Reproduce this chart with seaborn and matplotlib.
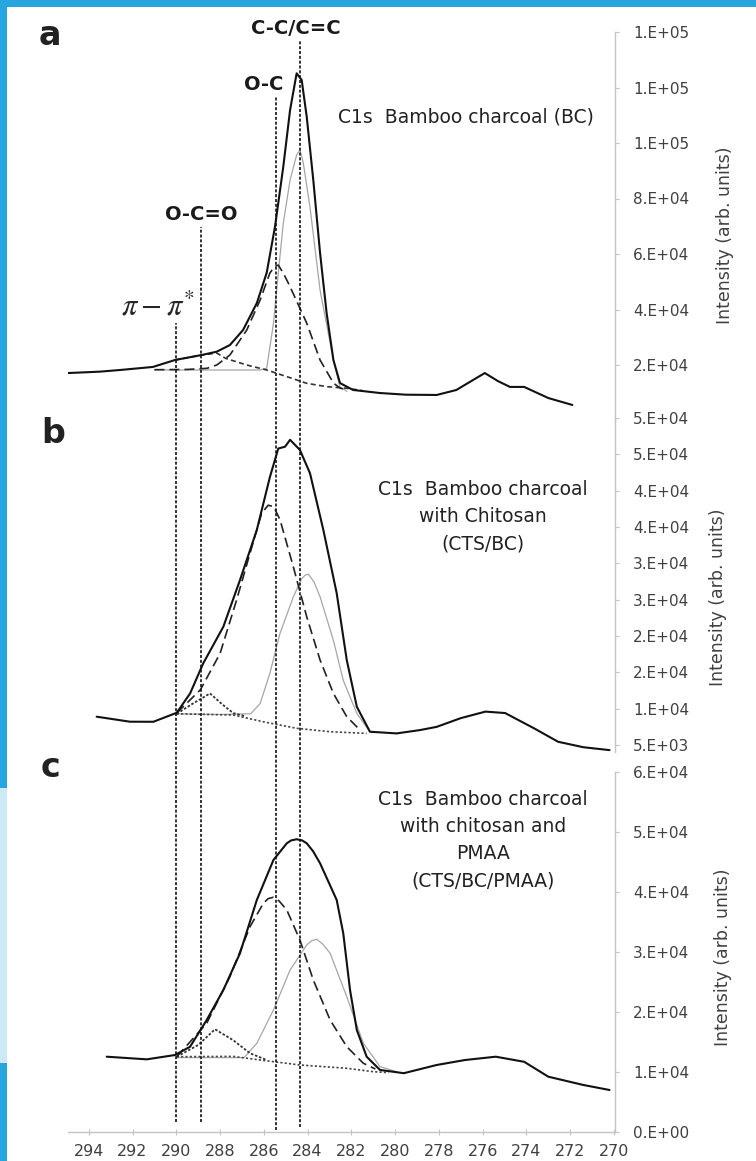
import matplotlib
matplotlib.use("Agg")
import matplotlib.pyplot as plt
import seaborn as sns
from matplotlib.patches import Rectangle

# ---------------- data (binding energy in eV, intensity in arb. units) ----------------
# panel a : Bamboo charcoal (BC)
a_total_E = [294.95, 293.5, 292.57, 291.07, 290.06, 288.84, 288.15, 287.55, 286.95, 286.32,
             285.87, 285.49, 285.11, 284.8, 284.5, 284.27, 284.04, 283.74, 283.43, 283.13,
             282.82, 282.52, 281.92, 280.69, 279.5, 278.1, 277.2, 276.5, 275.9, 275.3,
             274.75, 274.1, 273.0, 271.9]
a_total_I = [17100, 17600, 18200, 19300, 21800, 23600, 24800, 27200, 32600, 42300,
             53200, 69800, 91500, 111900, 125100, 122700, 109500, 86700, 60400, 38700,
             21800, 13500, 11000, 9900, 9300, 9200, 11000, 14300, 17100, 14200,
             12100, 12100, 8100, 5600]
a_oc_E = [291.0, 289.5, 288.6, 288.15, 287.55, 286.78, 286.17, 285.72, 285.5, 285.34, 285.1,
          284.8, 284.04, 283.43, 282.82, 282.52, 282.2]
a_oc_I = [18300, 18400, 18800, 20000, 23600, 32600, 43400, 53200, 55500, 56000, 53000,
          48200, 35100, 21800, 13500, 11700, 11000]
a_cc_E = [291.0, 286.2, 285.87, 285.56, 285.34, 285.11, 284.8, 284.5, 284.35, 284.2, 283.89,
          283.43, 282.82, 282.52, 282.2]
a_cc_I = [18200, 18200, 18800, 35000, 53000, 71100, 86700, 95700, 97500, 93000, 76900,
          47000, 21800, 12100, 10500]
a_ocoo_E = [290.06, 288.84, 288.15, 287.75, 286.78, 285.87, 284.95, 284.04, 283.13, 282.2, 281.5]
a_ocoo_I = [21800, 23600, 24300, 22400, 20000, 18200, 15800, 13400, 12200, 11600, 10800]

# panel b : Bamboo charcoal with Chitosan (CTS/BC)
b_total_E = [293.64, 292.12, 291.05, 289.98, 289.37, 288.77, 287.85, 287.09, 286.32, 285.72,
             285.34, 285.03, 284.8, 284.35, 283.89, 283.28, 282.67, 282.21, 281.75, 281.15,
             279.93, 278.86, 278.1, 277.0, 275.87, 274.97, 273.65, 272.55, 271.4, 270.2]
b_total_I = [8900, 8210, 8200, 9440, 12100, 16240, 21280, 27700, 34600, 41900,
             45800, 46050, 47000, 45600, 42400, 34600, 25900, 16700, 10270, 6830,
             6600, 7060, 7500, 8700, 9600, 9400, 7300, 5450, 4700, 4300]
b_oc_E = [289.98, 288.9, 288.0, 287.24, 286.63, 286.1, 285.8, 285.55, 285.26, 284.65, 284.04,
          283.43, 282.82, 282.21, 281.6]
b_oc_I = [9400, 12600, 17600, 25000, 31400, 36900, 38000, 37800, 36000, 29500, 22650,
          16700, 12100, 8900, 7060]
b_cc_E = [289.98, 288.0, 286.6, 286.17, 285.72, 285.26, 284.65, 284.27, 284.1, 283.96, 283.7,
          283.43, 282.82, 282.37, 281.75, 281.15]
b_cc_I = [9300, 9200, 9300, 10700, 14900, 20370, 25400, 27900, 28400, 28500, 27400,
          25400, 19400, 13900, 9360, 6800]
b_ocoo_E = [289.98, 289.3, 288.46, 287.9, 287.4, 286.9]
b_ocoo_I = [9300, 10600, 12100, 10600, 9400, 9000]
b_bg_E = [289.98, 287.4, 286.02, 284.5, 282.97, 281.3]
b_bg_I = [9300, 9130, 8200, 7300, 6830, 6600]

# panel c : Bamboo charcoal with chitosan and PMAA (CTS/BC/PMAA)
c_total_E = [293.18, 291.35, 290.06, 289.37, 288.61, 287.85, 287.09, 286.32, 285.56, 284.95,
             284.75, 284.5, 284.25, 284.04, 283.75, 283.43, 282.67, 282.37, 282.06, 281.75,
             281.3, 280.69, 279.6, 278.1, 276.8, 275.4, 274.1, 273.0, 271.4, 270.2]
c_total_I = [12550, 12110, 12830, 14220, 18670, 23670, 29790, 38670, 45340, 48120,
             48600, 48790, 48600, 48120, 46800, 44790, 38670, 33120, 23670, 17000,
             12550, 10340, 9800, 11170, 12000, 12550, 11700, 9220, 7840, 7000]
c_oc_E = [289.98, 288.61, 287.55, 286.63, 286.02, 285.8, 285.56, 285.3, 284.95, 284.35, 283.74,
          282.97, 282.21, 281.45, 280.9]
c_oc_I = [12550, 18120, 25900, 34230, 38120, 38900, 39120, 38500, 37000, 32000, 25340,
          18670, 14220, 11450, 10500]
c_cc_E = [289.98, 286.9, 286.32, 285.56, 284.8, 284.04, 283.8, 283.58, 283.3, 282.97, 282.21,
          281.45, 280.69, 279.93]
c_cc_I = [12400, 12400, 14780, 20340, 27000, 31170, 31900, 32120, 31300, 29790, 22560,
          14780, 10890, 10050]
c_ocoo_E = [289.98, 289.0, 288.23, 287.4, 286.63, 285.87]
c_ocoo_I = [12550, 14500, 17120, 15300, 13120, 12000]
c_bg_E = [289.98, 287.4, 286.17, 284.35, 282.21, 281.0, 280.3]
c_bg_I = [12550, 12600, 12000, 11170, 10620, 10050, 9900]

# peak assignments (vertical marker lines)
peak_pos = [290.0, 288.85, 285.45, 284.35]
peak_labels = [r"$\pi-\pi^{*}$", "O-C=O", "O-C", "C-C/C=C"]

# axes ticks
x_ticks = [294, 292, 290, 288, 286, 284, 282, 280, 278, 276, 274, 272, 270]
a_yticks = [20000, 40000, 60000, 80000, 100000, 120000, 140000]
a_ylabels = ["2.E+04", "4.E+04", "6.E+04", "8.E+04", "1.E+05", "1.E+05", "1.E+05"]
b_yticks = [5000, 10000, 15000, 20000, 25000, 30000, 35000, 40000, 45000, 50000]
b_ylabels = ["5.E+03", "1.E+04", "2.E+04", "2.E+04", "3.E+04", "3.E+04", "4.E+04",
             "4.E+04", "5.E+04", "5.E+04"]
c_yticks = [0, 10000, 20000, 30000, 40000, 50000, 60000]
c_ylabels = ["0.E+00", "1.E+04", "2.E+04", "3.E+04", "4.E+04", "5.E+04", "6.E+04"]

panel_titles = ["C1s  Bamboo charcoal (BC)",
                "C1s  Bamboo charcoal\nwith Chitosan\n(CTS/BC)",
                "C1s  Bamboo charcoal\nwith chitosan and\nPMAA\n(CTS/BC/PMAA)"]
panel_letters = ["a", "b", "c"]
y_title = "Intensity (arb. units)"

# ---------------- style ----------------
sns.set_style("white")
plt.rcParams['font.family'] = ['DejaVu Sans']
plt.rcParams['mathtext.fontset'] = 'stix'

W, H = 756, 1161
fig = plt.figure(figsize=(W / 100, H / 100), dpi=100)
fig.patch.set_facecolor('#27a5df')
fig.add_artist(Rectangle((7 / W, 0), 1 - 7 / W, 1 - 7 / H, transform=fig.transFigure,
                         facecolor='white', edgecolor='none', zorder=-5))
fig.add_artist(Rectangle((0, 1 - 1063 / H), 7 / W, (1063 - 788) / H, transform=fig.transFigure,
                         facecolor='#cfe8f6', edgecolor='none', zorder=-4))


def fx(px):
    return px / W


def fy(py):
    return 1 - py / H


XL, XR = 68, 615
XLIM = (294.95, 269.95)


def make_axes(top, bottom, ylim):
    ax = fig.add_axes([fx(XL), fy(bottom), (XR - XL) / W, (bottom - top) / H])
    ax.set_facecolor('none')
    ax.set_xlim(*XLIM)
    ax.set_ylim(*ylim)
    for s in ['left', 'top', 'bottom']:
        ax.spines[s].set_visible(False)
    ax.spines['right'].set_color('#c4c4c4')
    ax.spines['right'].set_linewidth(1.0)
    ax.yaxis.tick_right()
    ax.tick_params(axis='y', direction='out', length=3, color='#c4c4c4', width=0.8,
                   labelcolor='#404040', labelsize=11, pad=10)
    ax.set_xticks([])
    return ax


ax_a = make_axes(32, 420.5, (0, 140000))
ax_b = make_axes(418, 752.3, (4000, 50000))
ax_c = make_axes(772, 1132, (0, 60000))

TOTAL = dict(color='#111111', lw=1.5)
OC = dict(color='#222222', lw=1.2, linestyle=(0, (6, 3)))
CC = dict(color='#a6a6a6', lw=0.9, linestyle='-')
OCOO = dict(color='#333333', lw=1.3, linestyle=(0, (1.4, 1.0)))
BG = dict(color='#444444', lw=1.2, linestyle=(0, (1.3, 1.3)))
HUMP = dict(color='#333333', lw=1.2, linestyle=(0, (3, 2)))


def line(ax, E, I, style):
    sns.lineplot(x=E, y=I, ax=ax, sort=False, estimator=None, legend=False, **style)


line(ax_a, a_cc_E, a_cc_I, CC)
line(ax_a, a_ocoo_E, a_ocoo_I, HUMP)
line(ax_a, a_oc_E, a_oc_I, OC)
line(ax_a, a_total_E, a_total_I, TOTAL)

line(ax_b, b_cc_E, b_cc_I, CC)
line(ax_b, b_bg_E, b_bg_I, BG)
line(ax_b, b_ocoo_E, b_ocoo_I, OCOO)
line(ax_b, b_oc_E, b_oc_I, OC)
line(ax_b, b_total_E, b_total_I, TOTAL)

line(ax_c, c_cc_E, c_cc_I, CC)
line(ax_c, c_bg_E, c_bg_I, BG)
line(ax_c, c_ocoo_E, c_ocoo_I, OCOO)
line(ax_c, c_oc_E, c_oc_I, OC)
line(ax_c, c_total_E, c_total_I, TOTAL)

for ax, t, l in [(ax_a, a_yticks, a_ylabels), (ax_b, b_yticks, b_ylabels), (ax_c, c_yticks, c_ylabels)]:
    ax.set_xlabel("")
    ax.set_ylabel("")
    ax.set_xlim(*XLIM)
    ax.set_yticks(t)
    ax.set_yticklabels(l)

ax_a.set_ylim(0, 140000)
ax_b.set_ylim(4000, 50000)
ax_c.set_ylim(0, 60000)
for ax in (ax_a, ax_b):
    ax.set_xticks([])

ax_c.spines['bottom'].set_visible(True)
ax_c.spines['bottom'].set_color('#c4c4c4')
ax_c.spines['bottom'].set_linewidth(1.0)
ax_c.set_xticks(x_ticks)
ax_c.set_xticklabels([str(v) for v in x_ticks])
ax_c.tick_params(axis='x', direction='inout', length=5, color='#c4c4c4', width=0.8,
                 labelcolor='#404040', labelsize=11.5, pad=6, bottom=True)

# overlay for the vertical assignment lines (spanning all panels)
ov = fig.add_axes([fx(XL), 0, (XR - XL) / W, 1])
ov.set_facecolor('none')
ov.set_xlim(*XLIM)
ov.set_ylim(0, 1)
ov.axis('off')
line_tops = [323, 227, 97, 40]
line_bottoms = [1122, 1122, 1130, 1127]
for pos, t, b in zip(peak_pos, line_tops, line_bottoms):
    ov.axvline(pos, ymin=fy(b), ymax=fy(t), color='#111111', lw=1.2,
               linestyle=(0, (1.8, 1.1)))

# assignment labels
label_xy = [(158, 307), (201, 215), (264, 85), (296, 28)]
for lab, (px, py) in zip(peak_labels, label_xy):
    if lab.startswith("$"):
        fig.text(fx(px), fy(py), lab, ha='center', va='center', fontsize=22, color='#262626')
    else:
        fig.text(fx(px), fy(py), lab, ha='center', va='center', fontsize=14,
                 fontweight='bold', color='#1a1a1a')

# panel titles
title_xy = [(466, 117), (483, 517), (483, 840)]
for t, (px, py) in zip(panel_titles, title_xy):
    fig.text(fx(px), fy(py), t, ha='center', va='center', fontsize=13.5, color='#222222',
             linespacing=1.55)

# panel letters
letter_xy = [(50, 45), (53, 443), (51, 777)]
for t, (px, py) in zip(panel_letters, letter_xy):
    fig.text(fx(px), fy(py), t, ha='center', va='baseline', fontsize=24,
             fontweight='bold', color='#222222')

# y-axis titles
ytitle_xy = [(725, 235), (718, 597), (723, 957)]
for px, py in ytitle_xy:
    fig.text(fx(px), fy(py), y_title, ha='center', va='center', rotation=90,
             fontsize=12.5, color='#404040')

fig.savefig("out.png", dpi=100, facecolor=fig.get_facecolor())
